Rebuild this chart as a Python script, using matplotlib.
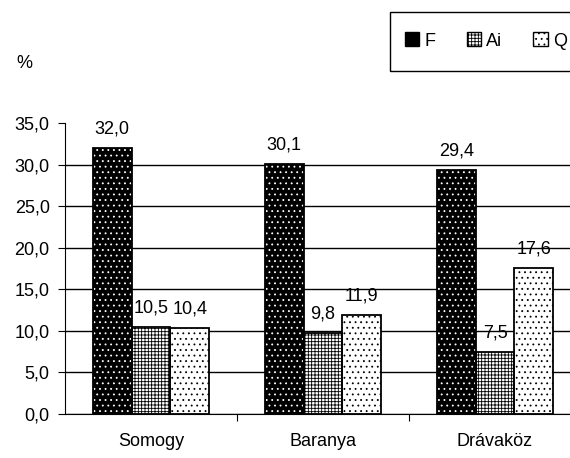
import numpy as np
import matplotlib.pyplot as plt
from matplotlib.patches import Patch, Rectangle

plt.rcParams['font.family'] = ['Liberation Sans', 'DejaVu Sans']
plt.rcParams['hatch.linewidth'] = 0.6

categories = ["Somogy", "Baranya", "Drávaköz"]
series_names = ["F", "Ai", "Q"]
F = [32.0, 30.1, 29.4]
Ai = [10.5, 9.8, 7.5]
Q = [10.4, 11.9, 17.6]

FS = 13

fig = plt.figure(figsize=(5.70, 4.58), dpi=100)
ax = fig.add_axes([65 / 570, 44 / 458, 516 / 570, 291 / 458])

x = np.arange(len(categories))
w = 0.225
styles = [
    dict(fc="black", hatch="...", hc="white"),
    dict(fc="white", hatch="+++++", hc="black"),
    dict(fc="white", hatch="...", hc="black"),
]

handles = []
for i, (vals, st) in enumerate(zip([F, Ai, Q], styles)):
    pos = x + (i - 1) * w
    ax.bar(pos, vals, w, color=st["fc"], hatch=st["hatch"], edgecolor=st["hc"],
           linewidth=0, zorder=2)
    ax.bar(pos, vals, w, fill=False, edgecolor="black", linewidth=1.3, zorder=3)
    for p, v in zip(pos, vals):
        ax.annotate(f"{v:.1f}".replace(".", ","), (p, v), xytext=(0, 7.5),
                    textcoords="offset points", ha="center", va="bottom", fontsize=FS)
    handles.append(Patch(facecolor=st["fc"], hatch=st["hatch"], edgecolor="black"))

ax.set_xlim(-0.5, 2.5)
ax.set_ylim(0, 35)
ax.set_yticks(np.arange(0, 36, 5))
ax.set_yticklabels([f"{t:.1f}".replace(".", ",") for t in np.arange(0, 36, 5)], fontsize=FS)
ax.set_xticks([0.5, 1.5, 2.5])
ax.set_xticklabels([])
ax.set_xticks(x, minor=True)
ax.set_xticklabels(categories, minor=True, fontsize=FS)
ax.tick_params(axis="x", which="minor", length=0, pad=14)
ax.tick_params(axis="x", which="major", length=5, direction="out")
ax.tick_params(axis="y", length=5, direction="out", pad=6)

ax.yaxis.grid(True, color="black", linewidth=1.0, zorder=0)
ax.get_ygridlines()[-1].set_visible(False)
ax.set_axisbelow(True)
for s in ["top", "right"]:
    ax.spines[s].set_visible(False)

fig.text(16 / 570, 1 - 64 / 458, "%", fontsize=FS, va="center")

# legend box runs past the right edge, as in the scan
fig.patches.append(Rectangle((390 / 570, 1 - 71 / 458), 200 / 570, 59 / 458,
                             transform=fig.transFigure, fill=False,
                             edgecolor="black", linewidth=1.0))
fig.legend(handles, series_names, loc="center left",
           bbox_to_anchor=(405 / 570, 1 - 41 / 458), ncol=3, fontsize=FS,
           frameon=False, handlelength=0.8, handleheight=0.8,
           handletextpad=0.3, columnspacing=1.7, borderpad=0, borderaxespad=0)

fig.savefig("out.png", dpi=100)
